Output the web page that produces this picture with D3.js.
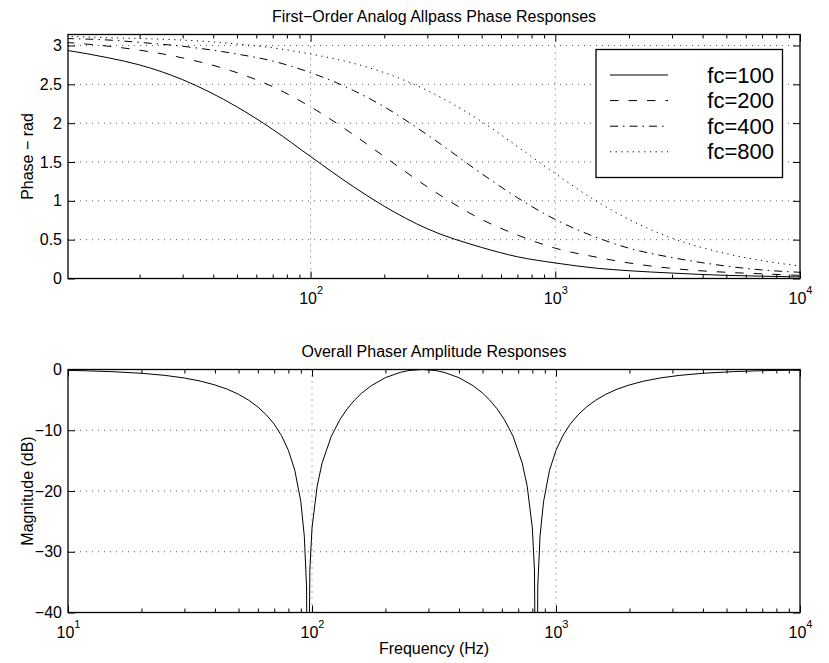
<!DOCTYPE html>
<html lang="en">
<head>
  <meta charset="UTF-8">
  <title>Allpass phase and phaser amplitude responses</title>
  <style>
    body { margin: 0; background: #fff; }
    svg { font-family: "Liberation Sans", Arial, Helvetica, sans-serif; }
    .frame { fill: none; stroke: #000; stroke-width: 1.3; }
    .grid line { stroke: #333; stroke-width: 0.8; stroke-dasharray: 1, 5; }
    .curve { fill: none; stroke: #000; stroke-width: 1; }
    .axis path { display: none; }
    .axis line { stroke: #000; stroke-width: 1; }
  </style>
</head>
<body>
  <svg id="chart" width="829" height="663"></svg>
  <script src="https://d3js.org/d3.v7.min.js"></script>
  <script>
    // values
    const phaseFreq = [10, 15, 20, 30, 50, 70, 100, 150, 200, 300, 500, 700, 1000, 1500, 2000, 3000, 5000, 7000, 10000];
    const phaseFc100 = [2.94, 2.84, 2.75, 2.56, 2.21, 1.92, 1.57, 1.18, 0.93, 0.64, 0.40, 0.28, 0.20, 0.13, 0.10, 0.07, 0.04, 0.03, 0.02];
    const phaseFc200 = [3.04, 2.99, 2.94, 2.84, 2.65, 2.47, 2.21, 1.85, 1.57, 1.18, 0.76, 0.56, 0.39, 0.27, 0.20, 0.13, 0.08, 0.06, 0.04];
    const phaseFc400 = [3.09, 3.07, 3.04, 2.99, 2.89, 2.80, 2.65, 2.42, 2.21, 1.85, 1.35, 1.04, 0.76, 0.52, 0.39, 0.27, 0.16, 0.11, 0.08];
    const phaseFc800 = [3.12, 3.10, 3.09, 3.07, 3.02, 2.97, 2.89, 2.77, 2.65, 2.42, 2.02, 1.70, 1.35, 0.98, 0.76, 0.52, 0.32, 0.23, 0.16];
    const legendLabels = ['fc=100', 'fc=200', 'fc=400', 'fc=800'];

    const magFreq = [10, 12, 15, 20, 25, 30, 35, 40, 45, 50, 55, 60, 65, 70, 75, 80, 85, 90, 93, 95, 96.3, 98, 100, 105, 110,
      120, 130, 140, 150, 160, 175, 200, 230, 250, 283, 320, 348, 400, 457, 500, 533, 571, 615, 667, 727, 762, 800, 816,
      831, 842, 860, 889, 941, 1000, 1067, 1143, 1231, 1333, 1455, 1600, 1778, 2000, 2286, 2667, 3200, 4000, 5333, 6667, 8000, 10000];
    const magDb = [-0.15, -0.22, -0.35, -0.62, -0.97, -1.40, -1.92, -2.54, -3.25, -4.08, -5.05, -6.17, -7.47, -9.00, -10.88, -13.29, -16.57, -21.76, -27.43, -35.8, -70, -33.0, -26.1, -19.21, -15.39,
      -10.99, -8.27, -6.38, -4.97, -3.88, -2.66, -1.34, -0.47, -0.16, 0, -0.16, -0.47, -1.34, -2.66, -3.88, -4.97, -6.38, -8.27, -10.99, -15.39, -19.21, -26.1, -33.0,
      -70, -35.8, -27.43, -21.76, -16.57, -13.29, -10.88, -9.00, -7.47, -6.17, -5.05, -4.08, -3.25, -2.54, -1.92, -1.40, -0.97, -0.62, -0.35, -0.22, -0.15, -0.10];

    const phaseTicks = [0, 0.5, 1, 1.5, 2, 2.5, 3];
    const phaseTickLabels = ['0', '0.5', '1', '1.5', '2', '2.5', '3'];
    const magTicks = [0, -10, -20, -30, -40];
    const magTickLabels = ['0', '\u221210', '\u221220', '\u221230', '\u221240'];
    const decadeTicks = [10, 100, 1000, 10000];
    const decadeExponents = ['1', '2', '3', '4'];

    const dashes = [null, '8.5,10', '8,5,1.5,5', '1.2,4.5'];

    const left = 68, right = 800;
    const fontSize = 16;
    const svg = d3.select('#chart');

    function minorTicks(domain) {
      const out = [];
      [10, 100, 1000].forEach(d => {
        for (let k = 2; k <= 9; k++) {
          const v = d * k;
          if (v > domain[0] && v < domain[1]) out.push(v);
        }
      });
      return out;
    }

    function drawPanel(opt) {
      const x = d3.scaleLog().domain(opt.xDomain).range([left, right]);
      const y = d3.scaleLinear().domain(opt.yDomain).range([opt.bottom, opt.top]);
      const g = svg.append('g');

      g.append('clipPath').attr('id', opt.id)
        .append('rect')
        .attr('x', left).attr('y', opt.top)
        .attr('width', right - left).attr('height', opt.bottom - opt.top);

      // dotted grid
      const grid = g.append('g').attr('class', 'grid');
      grid.selectAll('line.v')
        .data(decadeTicks.filter(d => d > opt.xDomain[0] && d < opt.xDomain[1]))
        .enter().append('line')
        .attr('class', 'v')
        .attr('x1', d => x(d)).attr('x2', d => x(d))
        .attr('y1', opt.top).attr('y2', opt.bottom);
      grid.selectAll('line.h')
        .data(opt.yTicks.filter(d => y(d) > opt.top + 1 && y(d) < opt.bottom - 1))
        .enter().append('line')
        .attr('class', 'h')
        .attr('x1', left).attr('x2', right)
        .attr('y1', d => y(d)).attr('y2', d => y(d));

      // curves
      const line = d3.line()
        .x(d => x(d[0]))
        .y(d => y(d[1]))
        .curve(opt.curve);
      const curves = g.append('g').attr('clip-path', `url(#${opt.id})`);
      curves.selectAll('path')
        .data(opt.series)
        .enter().append('path')
        .attr('class', 'curve')
        .attr('stroke-dasharray', (d, i) => opt.dashes[i])
        .attr('d', d => line(d3.zip(opt.freq, d)));

      // axes with ticks pointing inwards
      const yLeft = g.append('g').attr('class', 'axis')
        .attr('transform', `translate(${left},0)`)
        .call(d3.axisLeft(y).tickValues(opt.yTicks).tickSize(-7).tickPadding(6)
          .tickFormat((d, i) => opt.yTickLabels[i]));
      yLeft.selectAll('text').attr('font-size', fontSize).attr('font-family', null).attr('fill', '#000');

      g.append('g').attr('class', 'axis')
        .attr('transform', `translate(${right},0)`)
        .call(d3.axisRight(y).tickValues(opt.yTicks).tickSize(-7).tickFormat(''));

      const majors = decadeTicks.filter(d => d >= opt.xDomain[0] && d <= opt.xDomain[1]);
      const xBottom = g.append('g').attr('class', 'axis')
        .attr('transform', `translate(0,${opt.bottom})`)
        .call(d3.axisBottom(x).tickValues(majors).tickSize(-7).tickFormat(''));
      xBottom.selectAll('.tick text').each(function (d) {
        const t = d3.select(this)
          .attr('y', 25.5).attr('dy', null)
          .attr('font-size', fontSize).attr('font-family', null).attr('fill', '#000');
        t.append('tspan').text('10');
        t.append('tspan').attr('dy', -10).attr('font-size', 11)
          .text(decadeExponents[decadeTicks.indexOf(d)]);
      });

      g.append('g').attr('class', 'axis')
        .attr('transform', `translate(0,${opt.top})`)
        .call(d3.axisTop(x).tickValues(majors).tickSize(-7).tickFormat(''));

      const minors = minorTicks(opt.xDomain);
      g.append('g').attr('class', 'axis')
        .attr('transform', `translate(0,${opt.bottom})`)
        .call(d3.axisBottom(x).tickValues(minors).tickSize(-4).tickFormat(''));
      g.append('g').attr('class', 'axis')
        .attr('transform', `translate(0,${opt.top})`)
        .call(d3.axisTop(x).tickValues(minors).tickSize(-4).tickFormat(''));

      g.append('rect').attr('class', 'frame')
        .attr('x', left).attr('y', opt.top)
        .attr('width', right - left).attr('height', opt.bottom - opt.top);

      // title and y label
      g.append('text')
        .attr('x', (left + right) / 2).attr('y', opt.top - 12.5)
        .attr('text-anchor', 'middle')
        .style('font-size', fontSize + 'px')
        .text(opt.title);
      g.append('text')
        .attr('transform', `translate(33,${(opt.top + opt.bottom) / 2}) rotate(-90)`)
        .attr('text-anchor', 'middle')
        .style('font-size', fontSize + 'px')
        .text(opt.yLabel);

      return { x, y, g };
    }

    // upper panel: phase responses
    const p1 = drawPanel({
      id: 'clip1', top: 34.5, bottom: 278.5,
      xDomain: [10.2, 10000], yDomain: [0, Math.PI],
      yTicks: phaseTicks, yTickLabels: phaseTickLabels,
      freq: phaseFreq,
      series: [phaseFc100, phaseFc200, phaseFc400, phaseFc800],
      dashes: dashes,
      curve: d3.curveMonotoneX,
      title: 'First\u2212Order Analog Allpass Phase Responses',
      yLabel: 'Phase \u2212 rad'
    });

    // legend
    const legend = p1.g.append('g');
    legend.append('rect')
      .attr('x', 596).attr('y', 49.5).attr('width', 186.5).attr('height', 128)
      .attr('fill', '#fff').attr('stroke', '#000').attr('stroke-width', 1.3);
    const rows = legend.selectAll('g.row')
      .data(legendLabels)
      .enter().append('g')
      .attr('class', 'row')
      .attr('transform', (d, i) => `translate(0,${82.5 + i * 25.6})`);
    rows.append('line')
      .attr('class', 'curve')
      .attr('x1', 610).attr('x2', 668).attr('y1', -7.5).attr('y2', -7.5)
      .attr('stroke-dasharray', (d, i) => dashes[i]);
    rows.append('text')
      .attr('x', 774).attr('text-anchor', 'end')
      .style('font-size', '22px')
      .text(d => d);

    // lower panel: phaser amplitude
    drawPanel({
      id: 'clip2', top: 369.5, bottom: 612.5,
      xDomain: [10, 10000], yDomain: [-40, 0],
      yTicks: magTicks, yTickLabels: magTickLabels,
      freq: magFreq,
      series: [magDb],
      dashes: [null],
      curve: d3.curveLinear,
      title: 'Overall Phaser Amplitude Responses',
      yLabel: 'Magnitude (dB)'
    });

    svg.append('text')
      .attr('x', (left + right) / 2).attr('y', 654)
      .attr('text-anchor', 'middle')
      .style('font-size', fontSize + 'px')
      .text('Frequency (Hz)');
  </script>
</body>
</html>
